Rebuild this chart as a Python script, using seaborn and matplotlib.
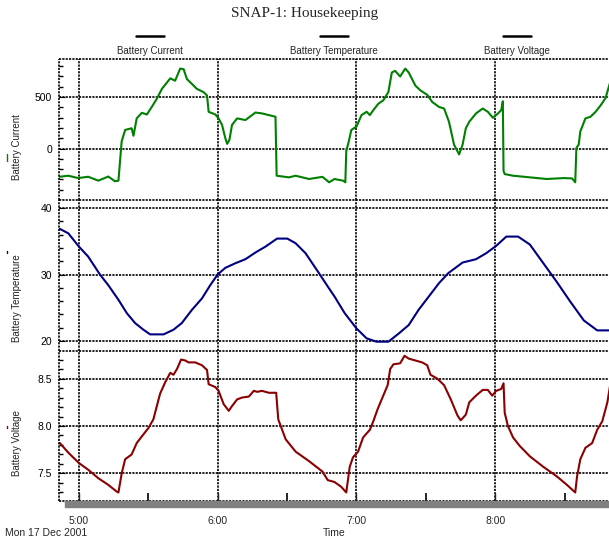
import pandas as pd
import matplotlib
matplotlib.use("Agg")
import matplotlib.pyplot as plt
import matplotlib.dates as mdates
from matplotlib.lines import Line2D
from matplotlib.patches import Rectangle
from matplotlib.ticker import MultipleLocator, FormatStrFormatter
import seaborn as sns

# time axis: minutes after 05:00 on Mon 17 Dec 2001
start = pd.Timestamp("2001-12-17 05:00")
x_min, x_max = -8.6, 229.2

# battery current
cur_minutes = [
    -8.2, -4.6, -0.3, 4.0, 8.4, 12.7, 15.6, 17.1, 18.5, 20.0, 22.8, 23.6, 25.0, 27.2,
    29.4, 31.5, 33.7, 35.9, 39.5, 41.6, 43.8, 45.3, 46.7, 48.9, 51.0, 53.9, 55.4, 56.1,
    59.0, 60.4, 61.9, 63.3, 64.1, 65.1, 66.2, 68.4, 72.0, 74.9, 76.3, 79.2, 82.1, 85.0,
    85.5, 90.8, 93.7, 99.5, 105.3, 108.2,
    110.5, 114.2, 115.2, 115.6, 116.7, 117.8, 120.0, 122.2, 124.4, 125.8, 127.3, 129.5,
    131.6, 133.8, 135.3, 136.7, 138.9, 141.1, 142.6, 145.5, 147.7, 150.6, 152.8, 155.7,
    157.9, 160.0, 162.2, 164.4, 165.9, 167.3, 168.8, 171.7, 174.6, 176.8, 179.0, 181.2,
    182.6, 183.3, 183.6, 184.1, 187.7, 195.0, 202.3, 209.5, 213.2, 214.6, 215.1, 216.1,
    216.8, 219.0, 221.2, 223.4, 225.6, 227.7, 229.9,
]
cur_values = [
    -274, -264, -287, -274, -312, -272, -318, -312, 70, 181, 197, 124, 293, 347,
    331, 404, 484, 580, 682, 659, 777, 771, 675, 627, 580, 548, 516, 357,
    331, 293, 229, 102, 45, 86, 229, 293, 277, 325, 350, 341, 325, 309,
    -264, -280, -264, -296, -275, -328,
    -296, -312, -328, -25, 70, 181, 213, 325, 357, 325, 373, 436,
    468, 548, 739, 755, 700, 777, 739, 611, 564, 522, 452, 404,
    389, 261, 38, -57, 38, 197, 261, 341, 389, 357, 299, 341,
    373, 459, -217, -248, -264, -280, -296, -287, -290, -328, 6, 38,
    166, 293, 309, 357, 420, 490, 659,
]

# battery temperature
temp_minutes = [
    -8.2, -4.6, 0.0, 4.0, 9.1, 12.7, 17.1, 20.7, 24.3, 27.9, 30.8, 36.6, 40.9, 44.5,
    48.9, 53.2, 56.8, 60.0, 63.3, 67.7, 72.0, 76.3, 80.7, 85.7, 90.1, 93.7, 98.0, 103.8,
    107.6, 110.5, 114.9, 120.0, 124.4, 128.7, 133.8, 138.2, 142.6, 146.9, 151.3, 155.7,
    159.7, 165.9, 171.7, 176.1, 180.4, 184.8, 189.9, 195.0, 200.8, 206.6, 212.5, 218.3,
    224.1, 230.0,
]
temp_values = [
    36.85, 36.2, 34.2, 32.7, 30.0, 28.4, 26.2, 24.2, 22.7, 21.7, 21.0, 21.0, 21.7, 22.7,
    24.7, 26.4, 28.4, 30.0, 31.0, 31.7, 32.3, 33.3, 34.2, 35.4, 35.4, 34.7, 33.2, 30.2,
    28.2, 26.7, 24.2, 21.9, 20.4, 19.9, 19.9, 21.1, 22.4, 24.7, 26.7, 28.7,
    30.2, 31.8, 32.3, 33.2, 34.3, 35.7, 35.7, 34.5, 31.7, 28.9, 25.9, 23.1,
    21.6, 21.6,
]

# battery voltage
volt_minutes = [
    -8.2, -4.6, 0.0, 4.0, 8.4, 12.7, 16.3, 17.1, 18.5, 20.0, 22.8, 25.0, 27.2, 30.1,
    32.2, 33.7, 35.1, 37.3, 39.5, 40.9, 42.4, 44.2, 46.0, 47.4, 50.3, 53.2, 55.4, 56.1,
    59.0, 60.4, 62.6, 64.8, 66.2, 68.4, 70.6, 73.5, 75.6, 77.1, 79.2, 82.1, 85.3, 86.2,
    89.4, 93.7, 99.5, 105.3,
    107.6, 110.5, 113.4, 115.6, 117.1, 118.5, 120.7, 122.9, 125.8, 127.3, 129.2, 131.6,
    133.5, 134.6, 136.0, 138.9, 140.8, 142.6, 145.5, 148.4, 150.6, 152.0, 154.9, 157.9,
    160.8, 163.7, 165.1, 167.3, 168.8, 171.7, 174.6, 176.8, 178.7, 180.4, 182.6, 183.6,
    184.1, 185.5, 187.7, 190.6, 195.0, 200.8, 206.6, 211.0, 214.6, 215.4, 216.8, 219.0,
    221.9, 224.1, 226.3, 228.5, 229.9,
]
volt_values = [
    7.82, 7.72, 7.61, 7.54, 7.45, 7.38, 7.31, 7.30, 7.50, 7.65, 7.70, 7.82, 7.89, 7.98,
    8.07, 8.21, 8.34, 8.46, 8.56, 8.54, 8.60, 8.70, 8.69, 8.67, 8.67, 8.64, 8.59, 8.44,
    8.41, 8.37, 8.23, 8.16, 8.21, 8.28, 8.30, 8.31, 8.37, 8.36, 8.37, 8.35, 8.35, 8.07,
    7.86, 7.73, 7.63, 7.52,
    7.43, 7.41, 7.36, 7.30, 7.57, 7.67, 7.73, 7.88, 7.96, 8.05, 8.18, 8.32,
    8.43, 8.60, 8.65, 8.66, 8.74, 8.71, 8.69, 8.67, 8.64, 8.54, 8.50, 8.43,
    8.28, 8.11, 8.06, 8.12, 8.25, 8.32, 8.38, 8.38, 8.32, 8.37, 8.39, 8.45,
    8.14, 8.00, 7.88, 7.79, 7.68, 7.57, 7.47, 7.38, 7.30, 7.47, 7.65, 7.77,
    7.82, 7.96, 8.05, 8.25, 8.46,
]

series_names = ["Battery Current", "Battery Temperature", "Battery Voltage"]
colors = ["#008000", "#000080", "#8b0000"]


def to_time(minutes):
    return start + pd.to_timedelta(minutes, unit="min")


df_cur = pd.DataFrame({"time": to_time(cur_minutes), "value": cur_values})
df_temp = pd.DataFrame({"time": to_time(temp_minutes), "value": temp_values})
df_volt = pd.DataFrame({"time": to_time(volt_minutes), "value": volt_values})

sns.set_style("white")
plt.rcParams["font.family"] = ["Liberation Sans", "DejaVu Sans"]

fig = plt.figure(figsize=(6.09, 5.4), dpi=100)
W, H = 609, 540
left, right = 59, 609
panels = [(59, 200), (200, 351), (351, 501)]
axes = []
for top, bottom in panels:
    ax = fig.add_axes([left / W, (H - bottom) / H, (right - left) / W, (bottom - top) / H],
                      sharex=axes[0] if axes else None)
    axes.append(ax)
ax1, ax2, ax3 = axes

sns.lineplot(data=df_cur, x="time", y="value", ax=ax1, color=colors[0], lw=1.5, estimator=None)
sns.lineplot(data=df_temp, x="time", y="value", ax=ax2, color=colors[1], lw=1.5, estimator=None)
sns.lineplot(data=df_volt, x="time", y="value", ax=ax3, color=colors[2], lw=1.5, estimator=None)

dots = (0, (1.3, 0.7))
ax1.set_ylim(-500, 870)
ax1.set_yticks([0, 500])
ax1.yaxis.set_minor_locator(MultipleLocator(100))
ax2.set_ylim(18.5, 41.2)
ax2.set_yticks([20, 30, 40])
ax2.yaxis.set_minor_locator(MultipleLocator(2))
ax3.set_ylim(7.21, 8.79)
ax3.set_yticks([7.5, 8.0, 8.5])
ax3.yaxis.set_major_formatter(FormatStrFormatter("%.1f"))
ax3.yaxis.set_minor_locator(MultipleLocator(0.1))

ax3.set_xlim(to_time(x_min), to_time(x_max))
ax3.xaxis.set_major_locator(mdates.HourLocator())
ax3.xaxis.set_minor_locator(mdates.MinuteLocator(byminute=[30]))
ax3.xaxis.set_major_formatter(mdates.DateFormatter("%-H:%M"))

label_y = [0.376, 0.35, 0.387]
for ax, name, ly in zip(axes, series_names, label_y):
    ax.grid(True, which="major", color="black", linestyle=dots, lw=1.2)
    ax.set_ylabel(name, fontsize=7, color="#222222")
    ax.yaxis.set_label_coords(-0.067, ly)
    ax.set_xlabel("")
    for side in ax.spines:
        ax.spines[side].set_visible(False)
    # dotted frame: top and left edges (bottom only on the last panel)
    frame = dict(transform=ax.transAxes, color="black", linestyle=dots, lw=1.2,
                 clip_on=False, zorder=3)
    ax.plot([0, 1], [1, 1], **frame)
    ax.plot([0, 0], [0, 1], **frame)
    if ax is ax3:
        ax.plot([0, 1], [0, 0], **frame)
    ax.tick_params(axis="y", which="major", direction="in", length=4, pad=5,
                   labelsize=7.5, colors="black", left=True)
    ax.tick_params(axis="y", which="minor", direction="in", length=3, width=1,
                   color="black", left=True)
    if ax is not ax3:
        ax.tick_params(axis="x", which="both", bottom=False, labelbottom=False)

ax3.tick_params(axis="x", which="major", direction="in", length=6, width=1,
                pad=11, labelsize=7.5, bottom=True)
ax3.tick_params(axis="x", which="minor", direction="in", length=6, width=1.2,
                color="black", bottom=True)
ax3.set_xlabel("Time", fontsize=7.5, labelpad=1)

# gray shadow band under the plot
fig.patches.append(Rectangle((65 / W, (H - 507) / H), (609 - 65) / W, 6 / H,
                             transform=fig.transFigure, color="#808080", zorder=0))

fig.text(5 / W, (H - 533) / H, "Mon 17 Dec 2001", fontsize=7.5, va="center", ha="left")
fig.text(0.5, (H - 13) / H, "SNAP-1: Housekeeping", fontsize=11, ha="center", va="center",
         family="Liberation Serif")

# key above the plot
key_x = [150, 334, 517]
for cx, name in zip(key_x, series_names):
    fig.add_artist(Line2D([(cx - 14) / W, (cx + 14) / W], [(H - 36) / H] * 2,
                          color="black", lw=1.8, transform=fig.transFigure))
    fig.text(cx / W, (H - 51) / H, name, fontsize=7, ha="center", va="center")

# small coloured marks beside the axis labels
for (y1, y2), c in zip([(154, 161), (251, 253), (426, 428)], colors):
    fig.add_artist(Line2D([7 / W, 7 / W], [(H - y1) / H, (H - y2) / H],
                          color=c, lw=1, transform=fig.transFigure))

fig.savefig("out.png", dpi=100)
